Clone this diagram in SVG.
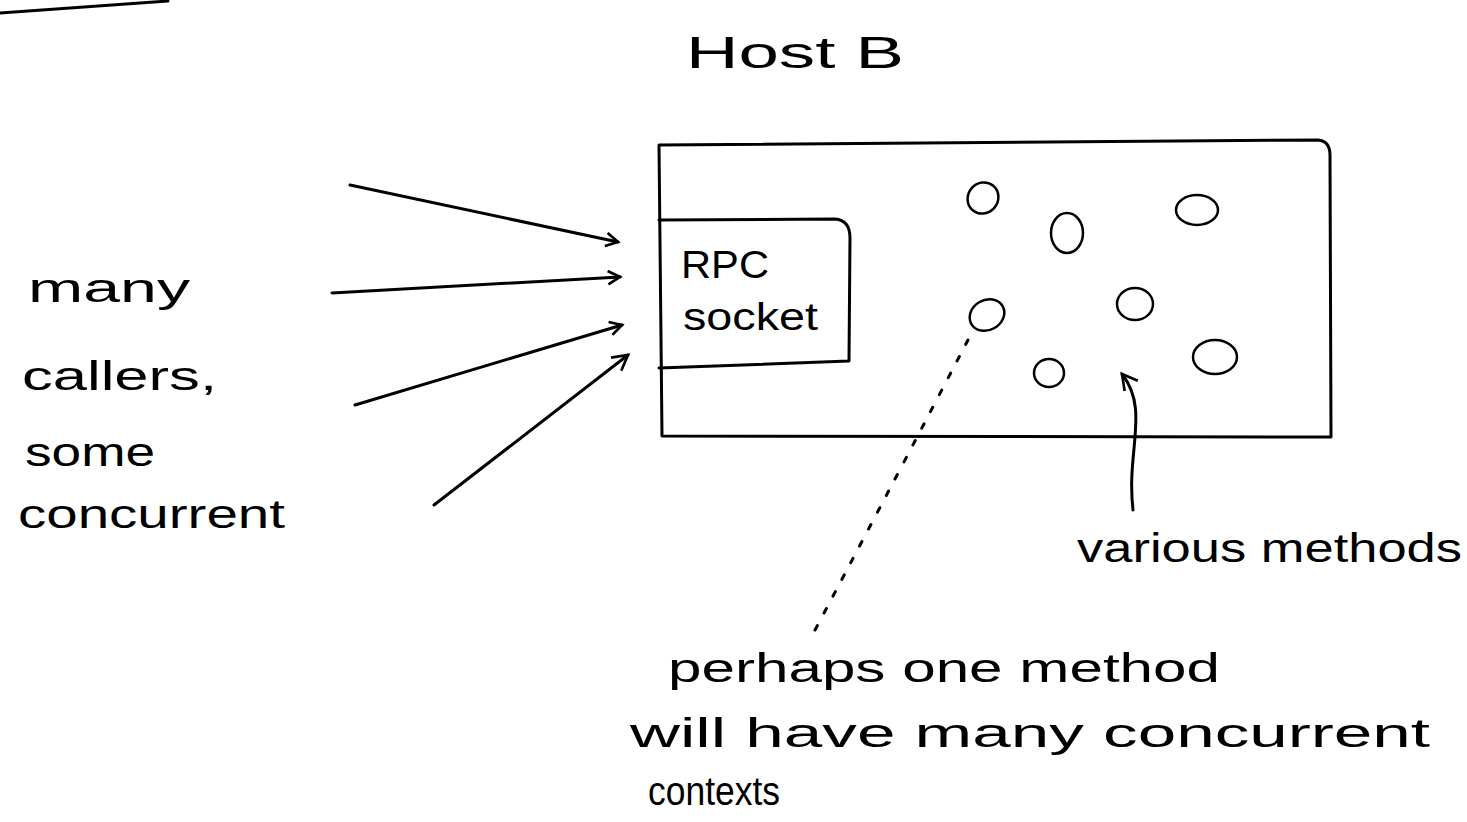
<svg xmlns="http://www.w3.org/2000/svg" width="1467" height="822" viewBox="0 0 1467 822">
<defs>
<style>
.s{fill:none;stroke:#000;stroke-width:3;stroke-linecap:round;stroke-linejoin:round}
.t{font-family:"Liberation Sans",Arial,sans-serif;fill:#000}
.c{fill:none;stroke:#000;stroke-width:2.5}
</style>
<marker id="ah" viewBox="0 0 12 12" refX="10" refY="6" markerWidth="16" markerHeight="16" markerUnits="userSpaceOnUse" orient="auto">
<path d="M1,1 L10,6 L1,11" fill="none" stroke="#000" stroke-width="2"/>
</marker>
<marker id="ah2" viewBox="0 0 12 12" refX="10" refY="6" markerWidth="20" markerHeight="20" markerUnits="userSpaceOnUse" orient="auto">
<path d="M1,1 L10,6 L1,11" fill="none" stroke="#000" stroke-width="1.6"/>
</marker>
</defs>
<rect width="1467" height="822" fill="#fff"/>
<path class="s" d="M0,13 L168,1"/>
<g id="title"><text class="t" x="686" y="68" font-size="44" textLength="218" lengthAdjust="spacingAndGlyphs">Host  B</text></g>
<g id="hostB">
<path class="s" d="M659,145 L1318,140 Q1330,141 1330,155 L1331,437 L662,436 Z"/>
</g>
<g id="rpcSocket">
<path class="s" d="M659,220 L835,219 Q850,220 850,238 L849,361 L659,368"/>
<text class="t" x="681" y="278" font-size="38" textLength="88" lengthAdjust="spacingAndGlyphs">RPC</text>
<text class="t" x="683" y="330" font-size="38" textLength="135" lengthAdjust="spacingAndGlyphs">socket</text>
</g>
<g id="methods">
<ellipse class="c" cx="983" cy="198" rx="15" ry="16" transform="rotate(40 983 198)"/>
<ellipse class="c" cx="1067" cy="233" rx="16" ry="20"/>
<ellipse class="c" cx="1197" cy="210" rx="21" ry="15"/>
<ellipse class="c" cx="987" cy="315" rx="18" ry="15" transform="rotate(-30 987 315)"/>
<ellipse class="c" cx="1135" cy="304" rx="18" ry="16"/>
<ellipse class="c" cx="1049" cy="373" rx="15" ry="14"/>
<ellipse class="c" cx="1215" cy="357" rx="22" ry="17"/>
</g>
<g id="callers"><text class="t" font-size="40">
<tspan x="28" y="302" textLength="162" lengthAdjust="spacingAndGlyphs">many</tspan>
<tspan x="22" y="390" textLength="195" lengthAdjust="spacingAndGlyphs">callers,</tspan>
<tspan x="25" y="466" textLength="130" lengthAdjust="spacingAndGlyphs">some</tspan>
<tspan x="18" y="528" textLength="267" lengthAdjust="spacingAndGlyphs">concurrent</tspan>
</text></g>
<g id="variousLabel"><text class="t" x="1077" y="562" font-size="40" textLength="385" lengthAdjust="spacingAndGlyphs">various methods</text></g>
<g id="perhapsLabel"><text class="t" font-size="40">
<tspan x="668" y="682" textLength="552" lengthAdjust="spacingAndGlyphs">perhaps  one  method</tspan>
<tspan x="630" y="747" textLength="800" lengthAdjust="spacingAndGlyphs">will  have  many  concurrent</tspan>
<tspan x="648" y="805" textLength="132" lengthAdjust="spacingAndGlyphs">contexts</tspan>
</text></g>
<g id="connectors">
<path class="s" d="M350,185 L618,242" marker-end="url(#ah)"/>
<path class="s" d="M332,293 L620,277" marker-end="url(#ah)"/>
<path class="s" d="M355,405 L622,325" marker-end="url(#ah)"/>
<path class="s" d="M434,505 L628,355" marker-end="url(#ah2)"/>
<path d="M968,340 Q900,470 815,630" fill="none" stroke="#000" stroke-width="3" stroke-dasharray="5,14" stroke-linecap="round"/>
<path class="s" d="M1133,510 C1126,450 1150,410 1122,374" marker-end="url(#ah2)"/>
</g>
</svg>
